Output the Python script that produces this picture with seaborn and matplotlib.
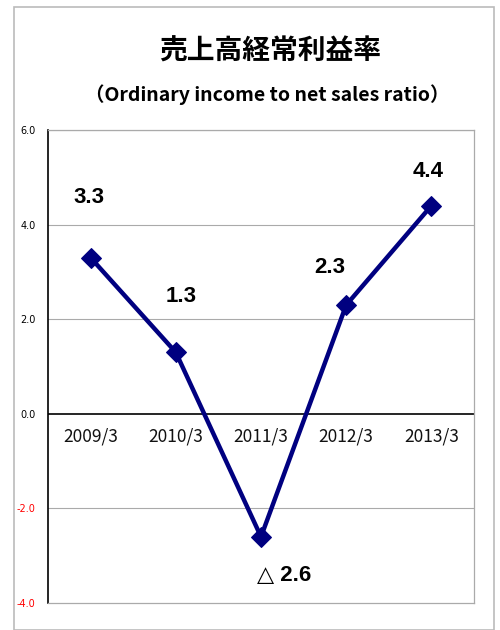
import matplotlib
matplotlib.use("Agg")
import matplotlib.pyplot as plt
import seaborn as sns
import pandas as pd
from matplotlib.patches import Rectangle

categories = ["2009/3", "2010/3", "2011/3", "2012/3", "2013/3"]
values = [3.3, 1.3, -2.6, 2.3, 4.4]
value_labels = ["3.3", "1.3", "△ 2.6", "2.3", "4.4"]
yticks = [-4.0, -2.0, 0.0, 2.0, 4.0, 6.0]

sns.set_theme(style="white")
plt.rcParams['font.family'] = ['Noto Sans CJK JP', 'DejaVu Sans']

fig = plt.figure(figsize=(5.0, 6.3), dpi=100)
# outer frame
fig.patches.append(Rectangle((14/500, 0.0), 480/500, (630-7)/630, transform=fig.transFigure,
                             fill=False, edgecolor="#bbbbbb", linewidth=1.2))

ax = fig.add_axes([48/500, 1-603/630, 426/500, 473/630])

df = pd.DataFrame({"cat": categories, "val": values})
df["x"] = range(len(categories))
sns.lineplot(data=df, x="x", y="val", ax=ax, color="#000080", linewidth=3.2,
             marker="D", markersize=10, markeredgecolor="#000080", legend=False)

ax.set_xlim(-0.5, len(categories) - 0.5)
ax.set_ylim(-4, 6)
ax.set_yticks(yticks)
ax.set_yticklabels([f"{t:.1f}" for t in yticks], fontsize=7, family=['DejaVu Sans'])
for lbl, t in zip(ax.get_yticklabels(), yticks):
    lbl.set_color("red" if t < 0 else "black")
ax.tick_params(axis="y", length=0, pad=9)
ax.set_xticks([])
ax.set_xlabel("")
ax.set_ylabel("")

for t in yticks:
    if t not in (0.0, -4.0):
        ax.axhline(t, color="#aaaaaa", linewidth=0.8, zorder=0)
ax.axhline(0, color="black", linewidth=1.2, zorder=1)

for side in ["right", "bottom", "top"]:
    ax.spines[side].set_color("#aaaaaa")
    ax.spines[side].set_linewidth(0.9)
ax.spines["left"].set_color("black")
ax.spines["left"].set_linewidth(1.2)

for i, c in enumerate(categories):
    ax.annotate(c, (i, 0), xytext=(0, -16), textcoords="offset points",
                ha="center", va="center", fontsize=12.5, color="#111111")

offsets = [(-1.5, 43), (3.6, 40), (16.5, -28), (-12, 27), (-2, 24.5)]
for i, (v, lab) in enumerate(zip(values, value_labels)):
    ax.annotate(lab, (i, v), xytext=offsets[i], textcoords="offset points",
                ha="center", va="center", fontsize=16, fontweight="bold", color="black",
                family=['Liberation Sans', 'DejaVu Sans'])

fig.text(0.54, 1-52/630, "売上高経常利益率", ha="center", va="center",
         fontsize=20, fontweight="bold", color="black")
fig.text(0.535, 1-95/630, "（Ordinary income to net sales ratio）", ha="center", va="center",
         fontsize=14, fontweight="bold", color="black")

fig.savefig("out.png", dpi=100)
